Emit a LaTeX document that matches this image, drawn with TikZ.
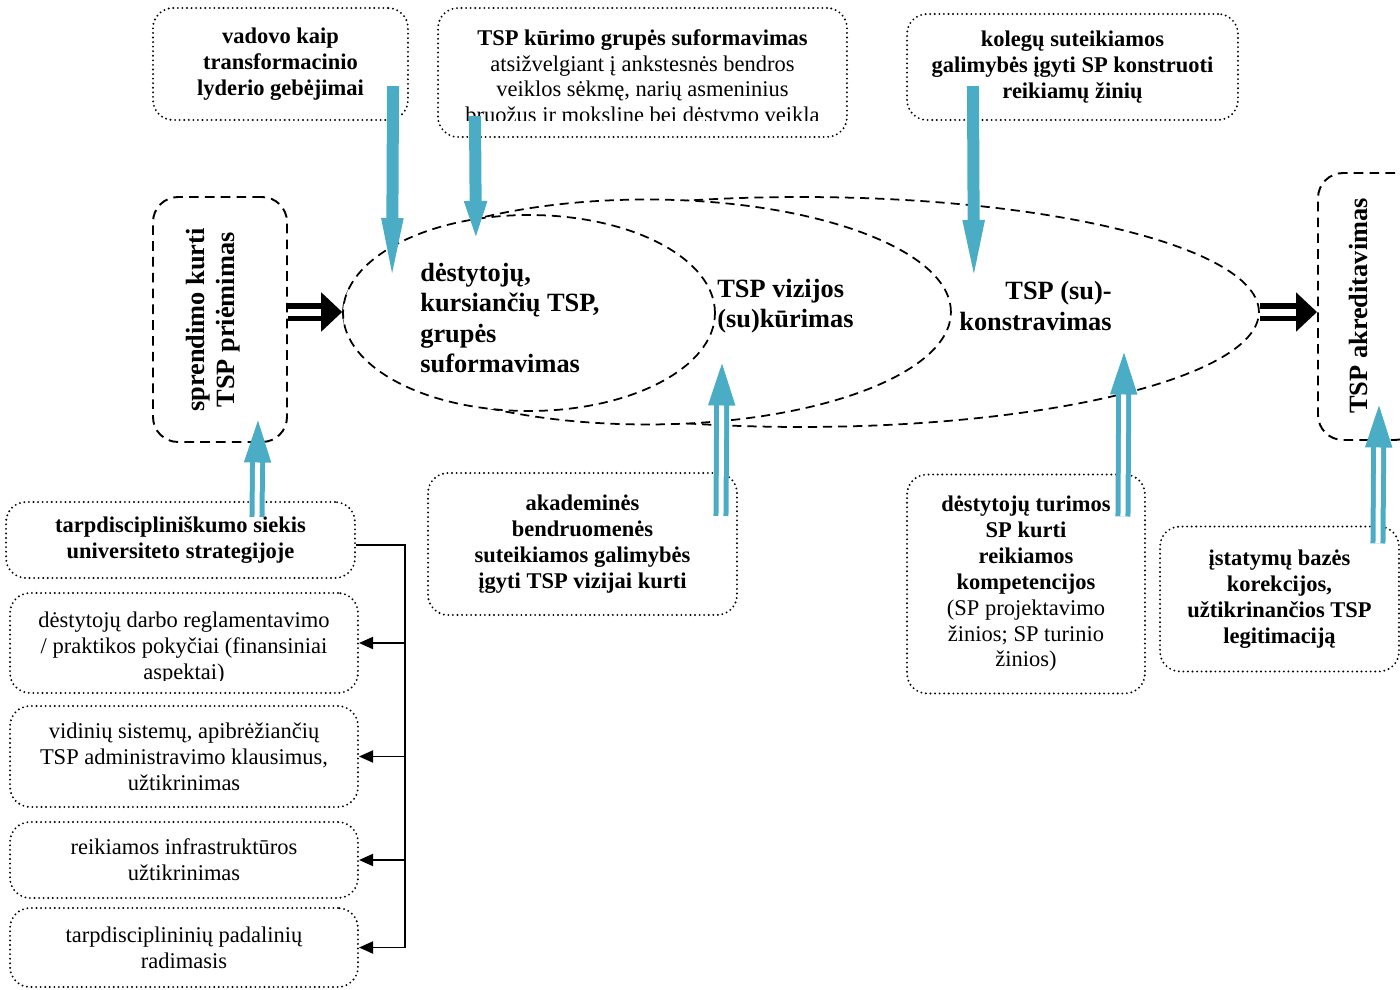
\documentclass[tikz,border=0pt]{standalone}
\usepackage{fontspec}
\setmainfont{Liberation Serif}
\usetikzlibrary{positioning,shapes.geometric,arrows.meta,calc}

\definecolor{aqua}{HTML}{4BACC6}
\newcommand{\boxfont}{\fontsize{12.8}{14.7}\selectfont}

\tikzset{
	dotbox/.style={draw, line width=1.2pt, dash pattern=on 0pt off 2.6pt, line cap=round,
		rounded corners=0.4cm, align=center, inner sep=0pt, font=\boxfont},
	boldbox/.style={dotbox, font=\boxfont\bfseries},
	dashbox/.style={draw, line width=1.1pt, dash pattern=on 5.5pt off 3.5pt, rounded corners=0.5cm},
	oval/.style={draw, fill=white, ellipse, line width=1pt, dash pattern=on 5.2pt off 3.4pt, inner sep=0pt},
	bigtext/.style={font=\fontsize{15}{17.4}\selectfont\bfseries, inner sep=0pt},
	downarrow/.style={aqua, line width=0.24cm, -{Triangle[length=#1, width=0.36cm]}},
	downarrow/.default=1.5cm,
	uparrow/.style={aqua, line width=0.1cm, double=white, double distance=0.1cm,
		-{Triangle[length=0.85cm, width=0.52cm]}},
	hollowarrow/.style={black, line width=0.12cm, double=white, double distance=0.14cm,
		-{Triangle[length=0.42cm, width=0.76cm]}},
	busarrow/.style={line width=1.1pt, -{Triangle[length=0.28cm, width=0.24cm]}}
}

\begin{document}
\begin{tikzpicture}[x=0.02cm, y=-0.02cm]
	\useasboundingbox (0,0) rectangle (1400,990);

	% fazes (elipses)
	\node[oval, minimum width=18.32cm, minimum height=4.6cm] (bigoval) at (801,312) {};
	\node[oval, minimum width=12.16cm, minimum height=4.5cm] (midoval) at (647,312) {};
	\node[oval, minimum width=7.44cm, minimum height=3.92cm] (smalloval) at (529,313) {};

	\node[bigtext, align=left, anchor=west] (teamtext) at (420,318) {dėstytojų,\\kursiančių TSP,\\grupės\\suformavimas};
	\node[bigtext, align=left, anchor=west] (visiontext) at (717,306) {TSP vizijos\\(su)kūrimas};
	\node[bigtext, align=right, anchor=east] (constrtext) at (1112,306) {TSP (su)-\\konstravimas};

	% pradzia ir pabaiga
	\node[dashbox, minimum width=2.68cm, minimum height=4.9cm] (decision) at (220,319.5) {};
	\node[bigtext, rotate=90, align=center] (decisiontext) at (213,320) {sprendimo kurti\\TSP priėmimas};
	\node[dashbox, minimum width=2.04cm, minimum height=5.34cm] (accred) at (1369,306.5) {};
	\node[bigtext, rotate=90] (accredtext) at (1358,306) {TSP akreditavimas};

	% virsutiniai veiksniai
	\node[boldbox, minimum width=5.1cm, minimum height=2.24cm] (lead) at (280.5,64)
		{vadovo kaip\\transformacinio\\lyderio gebėjimai};
	\node[dotbox, minimum width=8.18cm, minimum height=2.58cm] (group) at (642.5,72.5) {};
	\begin{scope}
		\clip (group.north west) rectangle ([shift={(0,-18)}]group.south east);
		\node[align=center, font=\boxfont, inner sep=0pt] (grouptext) at (642.5,78.5)
			{\textbf{TSP kūrimo grupės suformavimas}\\atsižvelgiant į ankstesnės bendros\\veiklos sėkmę, narių asmeninius\\bruožus ir mokslinę bei dėstymo veiklą};
	\end{scope}
	\node[boldbox, minimum width=6.62cm, minimum height=2.12cm] (peers) at (1072.5,67)
		{kolegų suteikiamos\\galimybės įgyti SP konstruoti\\reikiamų žinių};

	% apatiniai veiksniai
	\node[boldbox, minimum width=6.18cm, minimum height=2.84cm] (community) at (582.5,544)
		{akademinės\\bendruomenės\\suteikiamos galimybės\\įgyti TSP vizijai kurti};
	\node[dotbox, minimum width=4.76cm, minimum height=4.38cm] (skills) at (1026,584)
		{\textbf{dėstytojų turimos}\\\textbf{SP kurti}\\\textbf{reikiamos}\\\textbf{kompetencijos}\\(SP projektavimo\\žinios; SP turinio\\žinios)};
	\node[boldbox, minimum width=4.78cm, minimum height=2.9cm] (law) at (1279.5,599)
		{įstatymų bazės\\korekcijos,\\užtikrinančios TSP\\legitimaciją};

	% kairysis stulpelis
	\node[boldbox, minimum width=6.98cm, minimum height=1.52cm] (strategy) at (180.5,540)
		{tarpdiscipliniškumo siekis\\universiteto strategijoje};
	\node[dotbox, minimum width=6.96cm, minimum height=2cm] (workreg) at (184,643) {};
	\begin{scope}
		\clip (workreg.north west) rectangle ([shift={(0,-14)}]workreg.south east);
		\node[align=center, font=\boxfont, inner sep=0pt] (workregtext) at (184,648)
			{dėstytojų darbo reglamentavimo\\/ praktikos pokyčiai (finansiniai\\aspektai)};
	\end{scope}
	\node[dotbox, minimum width=6.96cm, minimum height=2.02cm] (systems) at (184,756.5)
		{vidinių sistemų, apibrėžiančių\\TSP administravimo klausimus,\\užtikrinimas};
	\node[dotbox, minimum width=6.96cm, minimum height=1.52cm] (infra) at (184,860)
		{reikiamos infrastruktūros\\užtikrinimas};
	\node[dotbox, minimum width=6.96cm, minimum height=1.58cm] (units) at (184,947.5)
		{tarpdisciplininių padalinių\\radimasis};

	\coordinate (bus) at (405,545);
	\draw[line width=1.1pt] (strategy.east |- bus) -- (bus) -- (bus |- units.east);
	\foreach \n in {workreg, systems, infra, units}
		\draw[busarrow] (bus |- \n.east) -- (\n.east);

	% rodykles
	\coordinate (leadtip) at (392,295);
	\coordinate (grouptip) at (476,252);
	\coordinate (peerstip) at (974,295);
	\draw[downarrow=1.54cm] ([shift={(-16,-35)}]lead.south east) -- (leadtip);
	\draw[downarrow=1.02cm] ([shift={(38,-22)}]group.south west) -- (grouptip);
	\draw[downarrow=1.5cm] ([shift={(67,-35)}]peers.south west) -- (peerstip);

	\coordinate (decisiontip) at (258,420);
	\coordinate (visiontip) at (722,363);
	\coordinate (constrtip) at (1124,352);
	\coordinate (accredtip) at (1379,405);
	\draw[uparrow] ([shift={(252,16)}]strategy.north west) -- (decisiontip);
	\draw[uparrow] ([shift={(294,44)}]community.north west) -- (visiontip);
	\draw[uparrow] ([shift={(217,43)}]skills.north west) -- (constrtip);
	\draw[uparrow] ([shift={(219,18)}]law.north west) -- (accredtip);

	\draw[hollowarrow] (decision.east |- bigoval.west) -- (bigoval.west);
	\draw[hollowarrow] (bigoval.east) -- (bigoval.east -| accred.west);

\end{tikzpicture}
\end{document}
